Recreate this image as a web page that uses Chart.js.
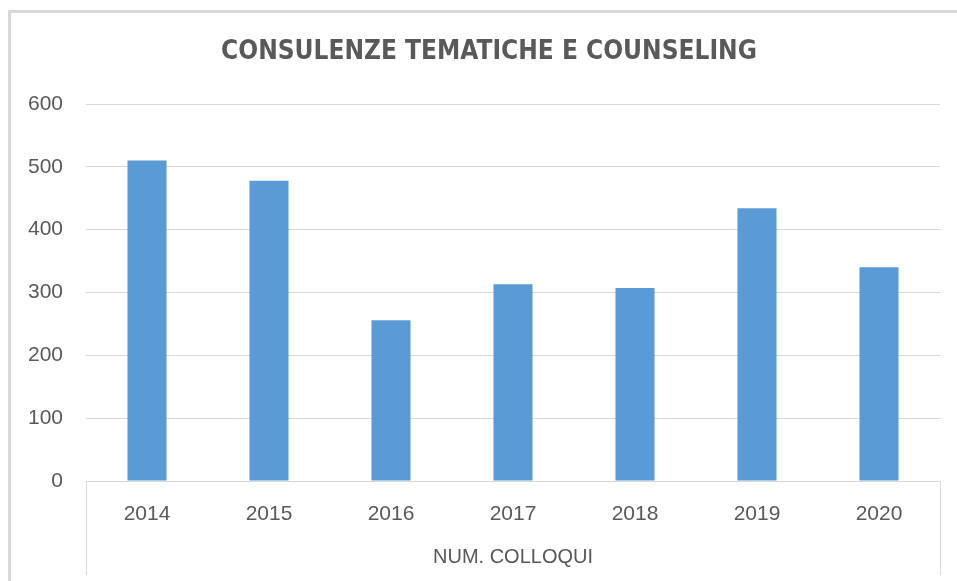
<!DOCTYPE html>
<html>
<head>
<meta charset="utf-8">
<script src="https://cdn.jsdelivr.net/npm/chart.js@4"></script>
<style>
  html, body { margin: 0; padding: 0; background: #fff; }
  #wrap { width: 957px; height: 581px; }
</style>
</head>
<body>
<div id="wrap"><canvas id="chart" width="957" height="581"></canvas></div>
<script>
// data
const years = ["2014", "2015", "2016", "2017", "2018", "2019", "2020"];
const colloqui = [510, 478, 256, 313, 307, 434, 340];
const yTicks = [0, 100, 200, 300, 400, 500, 600];

const chartTitle = "CONSULENZE TEMATICHE E COUNSELING";
const gray = "#D9D9D9";
const textColor = "#595959";

// frame, title (centred on the original, wider chart) and the category box
const framePlugin = {
  id: "frame",
  beforeDraw(chart) {
    const ctx = chart.ctx;
    ctx.save();
    ctx.strokeStyle = gray;
    ctx.lineWidth = 3;
    ctx.strokeRect(9.5, 11.5, chart.width + 10, chart.height + 10);
    ctx.restore();
  },
  afterDraw(chart) {
    const { ctx, chartArea } = chart;
    ctx.save();
    ctx.strokeStyle = gray;
    ctx.lineWidth = 1;
    ctx.beginPath();
    [chartArea.left, chartArea.right].forEach((x) => {
      ctx.moveTo(Math.round(x) + 0.5, chartArea.bottom);
      ctx.lineTo(Math.round(x) + 0.5, chart.height - 6);
    });
    ctx.stroke();

    ctx.fillStyle = textColor;
    ctx.font = "bold 26px 'Liberation Sans Narrow', 'DejaVu Sans Condensed', sans-serif";
    ctx.textAlign = "center";
    ctx.textBaseline = "middle";
    ctx.fillText(chartTitle, (chartArea.left + chartArea.right) / 2 - 24, 52);
    ctx.restore();
  },
};

new Chart(document.getElementById("chart"), {
  type: "bar",
  data: {
    labels: years,
    datasets: [
      {
        label: "Num. colloqui",
        data: colloqui,
        backgroundColor: "#5B9BD5",
        categoryPercentage: 1,
        barPercentage: 0.32,
      },
    ],
  },
  options: {
    responsive: false,
    animation: false,
    layout: { padding: { left: 0, right: 17, top: 104, bottom: 0 } },
    plugins: {
      legend: { display: false },
      tooltip: { enabled: false },
      title: { display: false },
    },
    scales: {
      x: {
        grid: { display: false },
        border: { display: true, color: gray, width: 1 },
        ticks: {
          color: textColor,
          font: { family: "'Liberation Sans', sans-serif", size: 21, lineHeight: 1.2 },
          padding: 13,
        },
        title: {
          display: true,
          text: "NUM. COLLOQUI",
          color: textColor,
          font: { family: "'Liberation Sans', sans-serif", size: 20, lineHeight: 1.2 },
          padding: { top: 0, bottom: 12 },
        },
        afterFit(scale) { scale.height = 100; },
      },
      y: {
        min: 0,
        max: 600,
        afterBuildTicks(scale) { scale.ticks = yTicks.map((v) => ({ value: v })); },
        grid: { color: gray, lineWidth: 1, drawTicks: false },
        border: { display: false },
        ticks: {
          color: textColor,
          font: { family: "'Liberation Sans', sans-serif", size: 21 },
          padding: 23,
        },
        afterFit(scale) { scale.width = 86; },
      },
    },
  },
  plugins: [framePlugin],
});
</script>
</body>
</html>
